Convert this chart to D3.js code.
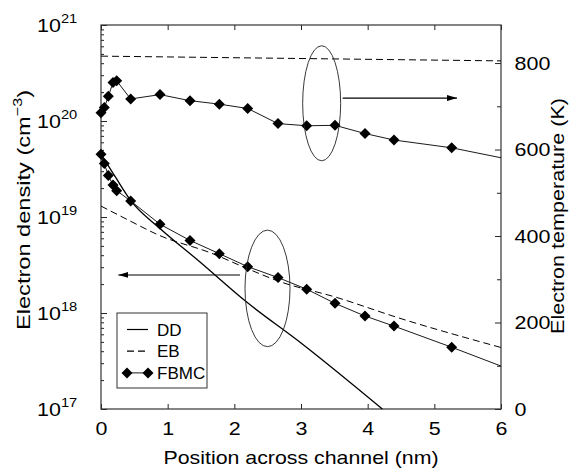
<!DOCTYPE html>
<html>
<head>
<meta charset="utf-8">
<script src="https://cdnjs.cloudflare.com/ajax/libs/d3/7.8.5/d3.min.js"></script>
<style>
  body { margin: 0; background: #fff; }
  svg { display: block; font-family: "Liberation Sans", Arial, sans-serif; }
  .tick text { font-size: 19px; fill: #000; }
</style>
</head>
<body>
<svg id="chart" width="572" height="469"></svg>
<script>
// values
const fbmcX       = [0, 0.05, 0.11, 0.18, 0.235, 0.445, 0.885, 1.335, 1.775, 2.2, 2.655, 3.085, 3.51, 3.96, 4.395, 5.26, 6];
const fbmcDensity = [4.5e19, 3.6e19, 2.7e19, 2.15e19, 1.88e19, 1.47e19, 8.4e18, 5.7e18, 4.15e18, 3.04e18, 2.34e18, 1.77e18, 1.26e18, 9.3e17, 7.3e17, 4.4e17, 2.8e17];
const fbmcTemp    = [685, 697, 723, 755, 759, 717, 727, 713, 705, 695, 660, 655, 656, 637, 622, 604, 581];
const fbmcMarkers = 16; // last point (x=6) is only the end of the line

const ddX       = [0, 0.225, 0.45, 0.885, 1.485, 2.185, 3.0, 4.22];
const ddDensity = [4.53e19, 2.55e19, 1.47e19, 7.6e18, 3.4e18, 1.3e18, 4.87e17, 1.0e17];

const ebX       = [0, 0.435, 0.86, 1.66, 2.185, 2.685, 3.51, 4.485, 6];
const ebDensity = [1.3e19, 9.1e18, 6.5e18, 4.19e18, 2.92e18, 2.12e18, 1.47e18, 8.8e17, 4.37e17];
const ebTempX   = [0, 6];
const ebTemp    = [816, 805];

const xTicks       = [0, 1, 2, 3, 4, 5, 6];
const densityTicks = [1e17, 1e18, 1e19, 1e20, 1e21];
const tempTicks    = [0, 200, 400, 600, 800];
const tempMinor    = [100, 300, 500, 700];

// annotation ovals and arrows (data units)
const tempOval  = { x: [3.025, 3.595], t: [574, 840] };
const densOval  = { x: [2.16, 2.835], n: [4.46e17, 7.3e18] };
const tempArrow = { x: [3.625, 5.34], t: 719 };
const densArrow = { x: [2.085, 0.26], n: 2.49e18 };

const legendItems = ["DD", "EB", "FBMC"];

const margin = {top: 25, right: 71, bottom: 60, left: 101};
const width = 572 - margin.left - margin.right;
const height = 469 - margin.top - margin.bottom;
const stretch = 1.13; // the scanned lettering is a bit wider than Arial

const svg = d3.select("#chart");
svg.append("rect").attr("width", 572).attr("height", 469).attr("fill", "#fff");

const g = svg.append("g").attr("transform", "translate(" + margin.left + "," + margin.top + ")");

const x = d3.scaleLinear().domain([0, 6]).range([0, width]);
const yN = d3.scaleLog().domain([1e17, 1e21]).range([height, 0]);
const yT = d3.scaleLinear().domain([0, 888]).range([height, 0]);

// axes (ticks pointing inward)
g.append("g").attr("transform", "translate(0," + height + ")")
    .call(d3.axisBottom(x).tickValues(xTicks).tickFormat(d3.format("d")).tickSize(-5).tickSizeOuter(0).tickPadding(13));
g.append("g")
    .call(d3.axisTop(x).tickValues(xTicks).tickFormat("").tickSize(-5).tickSizeOuter(0));

// left: log minor ticks
let minor = [];
for (let e = 17; e < 21; e++) for (let m = 2; m <= 9; m++) minor.push(m * Math.pow(10, e));
g.append("g").call(d3.axisLeft(yN).tickValues(minor).tickFormat("").tickSize(-3).tickSizeOuter(0));
const yAxisL = g.append("g")
    .call(d3.axisLeft(yN).tickValues(densityTicks).tickSize(-6).tickSizeOuter(0).tickPadding(21));
yAxisL.selectAll(".tick text").each(function(d) {
    let t = d3.select(this);
    t.text("").attr("dy", "0.35em");
    t.append("tspan").text("10");
    t.append("tspan").attr("font-size", "13px").attr("dy", "-9").text(Math.round(Math.log10(d)));
});

// right: temperature
g.append("g").attr("transform", "translate(" + width + ",0)")
    .call(d3.axisRight(yT).tickValues(tempMinor).tickFormat("").tickSize(-4).tickSizeOuter(0));
g.append("g").attr("transform", "translate(" + width + ",0)")
    .call(d3.axisRight(yT).tickValues(tempTicks).tickSize(-6).tickSizeOuter(0).tickPadding(12));

g.selectAll(".tick text").attr("transform", "scale(" + stretch + ",1)");
g.selectAll(".domain").remove();
g.selectAll(".tick line").attr("stroke", "#222");

g.append("rect").attr("width", width).attr("height", height)
    .attr("fill", "none").attr("stroke", "#333").attr("stroke-width", 1.2);

// lines
const pts = (xs, ys) => d3.zip(xs, ys);
const lineN = d3.line().x(d => x(d[0])).y(d => yN(d[1]));
const lineNs = d3.line().x(d => x(d[0])).y(d => yN(d[1])).curve(d3.curveMonotoneX);
const lineT = d3.line().x(d => x(d[0])).y(d => yT(d[1]));

g.append("path").datum(pts(ebX, ebDensity)).attr("d", lineNs)
    .attr("fill", "none").attr("stroke", "#000").attr("stroke-width", 1).attr("stroke-dasharray", "7,4");
g.append("path").datum(pts(ebTempX, ebTemp)).attr("d", lineT)
    .attr("fill", "none").attr("stroke", "#000").attr("stroke-width", 1).attr("stroke-dasharray", "7,4");

g.append("path").datum(pts(ddX, ddDensity)).attr("d", lineNs)
    .attr("fill", "none").attr("stroke", "#000").attr("stroke-width", 1.3);

g.append("path").datum(pts(fbmcX, fbmcDensity)).attr("d", lineN)
    .attr("fill", "none").attr("stroke", "#000").attr("stroke-width", 0.9);
g.append("path").datum(pts(fbmcX, fbmcTemp)).attr("d", lineT)
    .attr("fill", "none").attr("stroke", "#000").attr("stroke-width", 0.9);

const diamond = "M0,-5.5L5.5,0L0,5.5L-5.5,0Z";
g.selectAll(".mN").data(pts(fbmcX, fbmcDensity).slice(0, fbmcMarkers)).enter().append("path")
    .attr("d", diamond).attr("transform", d => "translate(" + x(d[0]) + "," + yN(d[1]) + ")");
g.selectAll(".mT").data(pts(fbmcX, fbmcTemp).slice(0, fbmcMarkers)).enter().append("path")
    .attr("d", diamond).attr("transform", d => "translate(" + x(d[0]) + "," + yT(d[1]) + ")");

// ovals
function oval(xr, yr, ys) {
    g.append("ellipse")
        .attr("cx", (x(xr[0]) + x(xr[1])) / 2).attr("cy", (ys(yr[0]) + ys(yr[1])) / 2)
        .attr("rx", Math.abs(x(xr[1]) - x(xr[0])) / 2).attr("ry", Math.abs(ys(yr[0]) - ys(yr[1])) / 2)
        .attr("fill", "none").attr("stroke", "#222").attr("stroke-width", 0.9);
}
oval(tempOval.x, tempOval.t, yT);
oval(densOval.x, densOval.n, yN);

// arrows
svg.append("defs").append("marker").attr("id", "head")
    .attr("viewBox", "0 0 10 6").attr("refX", 10).attr("refY", 3)
    .attr("markerWidth", 10).attr("markerHeight", 6).attr("markerUnits", "userSpaceOnUse")
    .attr("orient", "auto")
    .append("path").attr("d", "M0,0L10,3L0,6Z").attr("fill", "#000");
g.append("line").attr("x1", x(tempArrow.x[0])).attr("x2", x(tempArrow.x[1]))
    .attr("y1", yT(tempArrow.t)).attr("y2", yT(tempArrow.t))
    .attr("stroke", "#000").attr("stroke-width", 1.1).attr("marker-end", "url(#head)");
g.append("line").attr("x1", x(densArrow.x[0])).attr("x2", x(densArrow.x[1]))
    .attr("y1", yN(densArrow.n)).attr("y2", yN(densArrow.n))
    .attr("stroke", "#000").attr("stroke-width", 1.1).attr("marker-end", "url(#head)");

// legend
const lg = svg.append("g").attr("transform", "translate(117,313)");
lg.append("rect").attr("width", 90).attr("height", 75)
    .attr("fill", "#fff").attr("stroke", "#333").attr("stroke-width", 1);
legendItems.forEach(function(name, i) {
    let yy = 16.5 + i * 21.7;
    let ln = lg.append("line").attr("x1", 10).attr("x2", 31).attr("y1", yy).attr("y2", yy)
        .attr("stroke", "#000").attr("stroke-width", i == 2 ? 0.9 : 1.2);
    if (name == "EB") ln.attr("stroke-dasharray", "7,4");
    if (name == "FBMC") {
        [10, 31].forEach(px => lg.append("path").attr("d", diamond).attr("transform", "translate(" + px + "," + yy + ")"));
    }
    lg.append("text").attr("x", 40).attr("y", yy).attr("dy", "0.36em")
        .attr("font-size", "17px").text(name);
});

// axis titles
svg.append("text").attr("x", margin.left + width / 2).attr("y", 464)
    .attr("text-anchor", "middle").attr("font-size", "19px")
    .attr("textLength", 275).attr("lengthAdjust", "spacingAndGlyphs")
    .text("Position across channel (nm)");

const lt = svg.append("text").attr("transform", "translate(30,210) rotate(-90)")
    .attr("text-anchor", "middle").attr("font-size", "19px")
    .attr("textLength", 240).attr("lengthAdjust", "spacingAndGlyphs");
lt.append("tspan").text("Electron density (cm");
lt.append("tspan").attr("font-size", "13px").attr("dy", "-8").text("−3");
lt.append("tspan").attr("dy", "8").text(")");

svg.append("text").attr("transform", "translate(564,216) rotate(-90)")
    .attr("text-anchor", "middle").attr("font-size", "19px")
    .attr("textLength", 236).attr("lengthAdjust", "spacingAndGlyphs")
    .text("Electron temperature (K)");
</script>
</body>
</html>
